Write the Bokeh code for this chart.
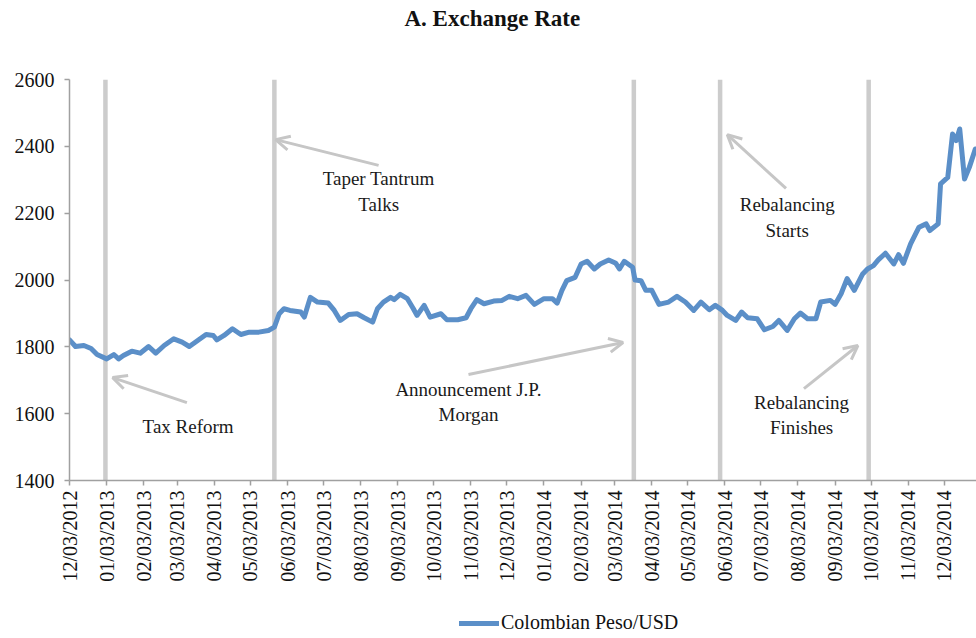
import math
import pandas as pd
from bokeh.plotting import figure
from bokeh.layouts import column
from bokeh.models import (Range1d, FixedTicker, DatetimeTickFormatter, Arrow, OpenHead, Title,
                          Legend, LegendItem)
from bokeh.core.properties import value
from bokeh.embed import file_html
from bokeh.resources import INLINE

FONT = "Liberation Serif"

# ---------------- data ----------------
dates = [
    "2012-12-03", "2012-12-08", "2012-12-15", "2012-12-21", "2012-12-26",
    "2013-01-03", "2013-01-09", "2013-01-13", "2013-01-17", "2013-01-24", "2013-01-31",
    "2013-02-07", "2013-02-13", "2013-02-20", "2013-02-28",
    "2013-03-07", "2013-03-13", "2013-03-20", "2013-03-27",
    "2013-04-02", "2013-04-05", "2013-04-11", "2013-04-18", "2013-04-25",
    "2013-05-02", "2013-05-10", "2013-05-18", "2013-05-23", "2013-05-27", "2013-05-31",
    "2013-06-05", "2013-06-14", "2013-06-17", "2013-06-22", "2013-06-28",
    "2013-07-07", "2013-07-12", "2013-07-17", "2013-07-24", "2013-07-31",
    "2013-08-06", "2013-08-13", "2013-08-17", "2013-08-22", "2013-08-28", "2013-08-31",
    "2013-09-05", "2013-09-11", "2013-09-16", "2013-09-19", "2013-09-25", "2013-09-30",
    "2013-10-09", "2013-10-14", "2013-10-23", "2013-10-30",
    "2013-11-03", "2013-11-08", "2013-11-14", "2013-11-22", "2013-11-29",
    "2013-12-05", "2013-12-12", "2013-12-19", "2013-12-26",
    "2014-01-03", "2014-01-10", "2014-01-14", "2014-01-18", "2014-01-22", "2014-01-29",
    "2014-02-03", "2014-02-08", "2014-02-14", "2014-02-19", "2014-02-26",
    "2014-03-04", "2014-03-07", "2014-03-11", "2014-03-18", "2014-03-20", "2014-03-25", "2014-03-29",
    "2014-04-03", "2014-04-09", "2014-04-17", "2014-04-24",
    "2014-05-01", "2014-05-08", "2014-05-14", "2014-05-21", "2014-05-26",
    "2014-06-01", "2014-06-05", "2014-06-12", "2014-06-17", "2014-06-22", "2014-06-30",
    "2014-07-06", "2014-07-13", "2014-07-18", "2014-07-25", "2014-07-31",
    "2014-08-05", "2014-08-11", "2014-08-18", "2014-08-22", "2014-08-30",
    "2014-09-03", "2014-09-08", "2014-09-13", "2014-09-19", "2014-09-26", "2014-09-30",
    "2014-10-05", "2014-10-09", "2014-10-15", "2014-10-22", "2014-10-26", "2014-10-30",
    "2014-11-05", "2014-11-12", "2014-11-18", "2014-11-21", "2014-11-28", "2014-11-30",
    "2014-12-06", "2014-12-10", "2014-12-13", "2014-12-16", "2014-12-20", "2014-12-24", "2014-12-29",
]
peso_usd = [
    1821, 1801, 1804, 1795, 1777,
    1764, 1777, 1764, 1774, 1787, 1781,
    1801, 1781, 1804, 1824,
    1814, 1801, 1819, 1837,
    1834, 1821, 1834, 1854, 1837,
    1844, 1844, 1849, 1859, 1899, 1914,
    1909, 1904, 1889, 1948, 1934,
    1931, 1909, 1879, 1897, 1899,
    1887, 1874, 1914, 1934, 1948, 1941,
    1957, 1944, 1914, 1894, 1924, 1889,
    1899, 1881, 1881, 1887,
    1914, 1941, 1929, 1937, 1939,
    1951, 1944, 1954, 1927,
    1944, 1944, 1931, 1969, 1998, 2008,
    2048, 2056, 2033, 2048, 2060,
    2050, 2033, 2056, 2038, 2000, 1998, 1969,
    1969, 1927, 1934, 1951,
    1934, 1909, 1934, 1911, 1924,
    1909, 1894, 1879, 1904, 1887, 1884,
    1851, 1861, 1879, 1849, 1884,
    1901, 1884, 1884, 1934, 1939,
    1927, 1959, 2004, 1969, 2018, 2033,
    2043, 2060, 2080, 2048, 2076, 2050,
    2108, 2158, 2168, 2148, 2168, 2288,
    2307, 2437, 2417, 2452, 2302, 2337, 2392,
]

tick_dates = [
    "2012-12-03", "2013-01-03", "2013-02-03", "2013-03-03", "2013-04-03", "2013-05-03",
    "2013-06-03", "2013-07-03", "2013-08-03", "2013-09-03", "2013-10-03", "2013-11-03",
    "2013-12-03", "2014-01-03", "2014-02-03", "2014-03-03", "2014-04-03", "2014-05-03",
    "2014-06-03", "2014-07-03", "2014-08-03", "2014-09-03", "2014-10-03", "2014-11-03",
    "2014-12-03",
]
y_ticks = [1400, 1600, 1800, 2000, 2200, 2400, 2600]

event_dates = ["2013-01-02", "2013-05-23", "2014-03-19", "2014-05-30", "2014-10-01"]

# annotations: label text, label anchor (date, value), arrow tail (date, value), arrow head (date, value)
ann_text = ["Tax Reform", "Taper Tantrum\nTalks", "Announcement J.P.\nMorgan",
            "Rebalancing\nStarts", "Rebalancing\nFinishes"]
ann_x = ["2013-03-12", "2013-08-18", "2013-11-01", "2014-07-25", "2014-08-06"]
ann_y = [1562, 2265, 1636, 2187, 1597]
arr_x0 = ["2013-03-11", "2013-08-18", "2013-11-01", "2014-07-24", "2014-08-08"]
arr_y0 = [1633, 2343, 1717, 2274, 1675]
arr_x1 = ["2013-01-08", "2013-05-24", "2014-03-10", "2014-06-05", "2014-09-22"]
arr_y1 = [1708, 2420, 1813, 2435, 1804]

x_start, x_end = "2012-12-03", "2014-12-30"
title_text = "A. Exchange Rate"
series_name = "Colombian Peso/USD"


def ms(d):
    return pd.Timestamp(d).value / 1e6


LINE_COLOR = "#5B8FC8"

p = figure(width=976, height=590, x_axis_type="datetime",
           output_backend="svg", toolbar_location=None,
           x_range=Range1d(ms(x_start), ms(x_end)),
           y_range=Range1d(y_ticks[0], y_ticks[-1]),
           min_border_left=69, min_border_right=0,
           min_border_top=79, min_border_bottom=110)

p.xgrid.visible = False
p.ygrid.visible = False
p.outline_line_color = None
p.background_fill_color = "white"
p.border_fill_color = "white"

# real title (outer slot) + spacer title (slot nearest to the frame)
p.title.text = title_text
p.title.align = "left"
p.title.offset = 335
p.title.text_font = FONT
p.title.text_font_style = "bold"
p.title.text_font_size = "23px"
p.title.text_color = "#111111"
p.title.standoff = 4
p.add_layout(Title(text=" ", text_font_size="10px", standoff=34), "above")

for ax in (p.xaxis[0], p.yaxis[0]):
    ax.axis_line_color = "#a0a0a0"
    ax.axis_line_width = 1.5
    ax.major_tick_line_color = "#a0a0a0"
    ax.major_tick_line_width = 1.5
    ax.major_tick_in = 0
    ax.major_tick_out = 5
    ax.minor_tick_in = 0
    ax.minor_tick_out = 0
    ax.major_label_text_font = FONT
    ax.major_label_text_font_size = "20px"
    ax.major_label_text_color = "#111111"

p.xaxis.ticker = FixedTicker(ticks=[ms(d) for d in tick_dates])
fmt = "%m/%d/%Y"
p.xaxis.formatter = DatetimeTickFormatter(days=fmt, months=fmt, years=fmt, hours=fmt,
                                          hourmin=fmt, minutes=fmt, minsec=fmt, seconds=fmt,
                                          milliseconds=fmt, microseconds=fmt)
p.xaxis.major_label_orientation = math.pi / 2
p.xaxis.major_label_standoff = 5
p.yaxis.ticker = FixedTicker(ticks=y_ticks)
p.yaxis.major_label_standoff = 10

# event bars
ev = [pd.Timestamp(d) for d in event_dates]
p.segment(x0=ev, x1=ev, y0=[y_ticks[0]] * len(ev), y1=[y_ticks[-1]] * len(ev),
          line_color="#cccccc", line_width=4.5)

# series
xd = [pd.Timestamp(d) for d in dates]
p.line(xd, peso_usd, line_color=LINE_COLOR, line_width=5,
       line_join="round", line_cap="round")

# arrows
for i in range(len(ann_text)):
    p.add_layout(Arrow(x_start=ms(arr_x0[i]), y_start=arr_y0[i],
                       x_end=ms(arr_x1[i]), y_end=arr_y1[i],
                       line_color="#c6c6c6", line_width=3,
                       end=OpenHead(size=14, line_color="#c6c6c6", line_width=3)))

p.text(x=[pd.Timestamp(d) for d in ann_x], y=ann_y, text=ann_text,
       text_font=value(FONT), text_font_size="19px", text_color="#1a1a1a",
       text_align="center", text_baseline="middle", text_line_height=1.2)

# ---------------- legend strip under the chart ----------------
p2 = figure(width=976, height=48, output_backend="svg", toolbar_location=None,
            x_axis_location=None, y_axis_location=None,
            x_range=Range1d(ms(x_start), ms(x_end)), y_range=Range1d(0, 1),
            min_border_left=0, min_border_right=0, min_border_top=0, min_border_bottom=0)
p2.xgrid.visible = False
p2.ygrid.visible = False
p2.outline_line_color = None
p2.background_fill_color = "white"
p2.border_fill_color = "white"
# same series (falls outside this strip's range, so only its legend swatch shows)
r2 = p2.line(xd, peso_usd, line_color=LINE_COLOR, line_width=5,
             line_join="round", line_cap="round")

lg = Legend(items=[LegendItem(label=series_name, renderers=[r2])],
            location=(390, 4), orientation="horizontal",
            padding=0, margin=0, spacing=0,
            border_line_alpha=0, background_fill_alpha=0,
            glyph_width=40, glyph_height=20, label_standoff=2,
            label_text_font=FONT, label_text_font_size="20px",
            label_text_color="#111111")
p2.add_layout(lg)

layout = column(p, p2, spacing=0)

open("out.html", "w").write(file_html(layout, INLINE))
